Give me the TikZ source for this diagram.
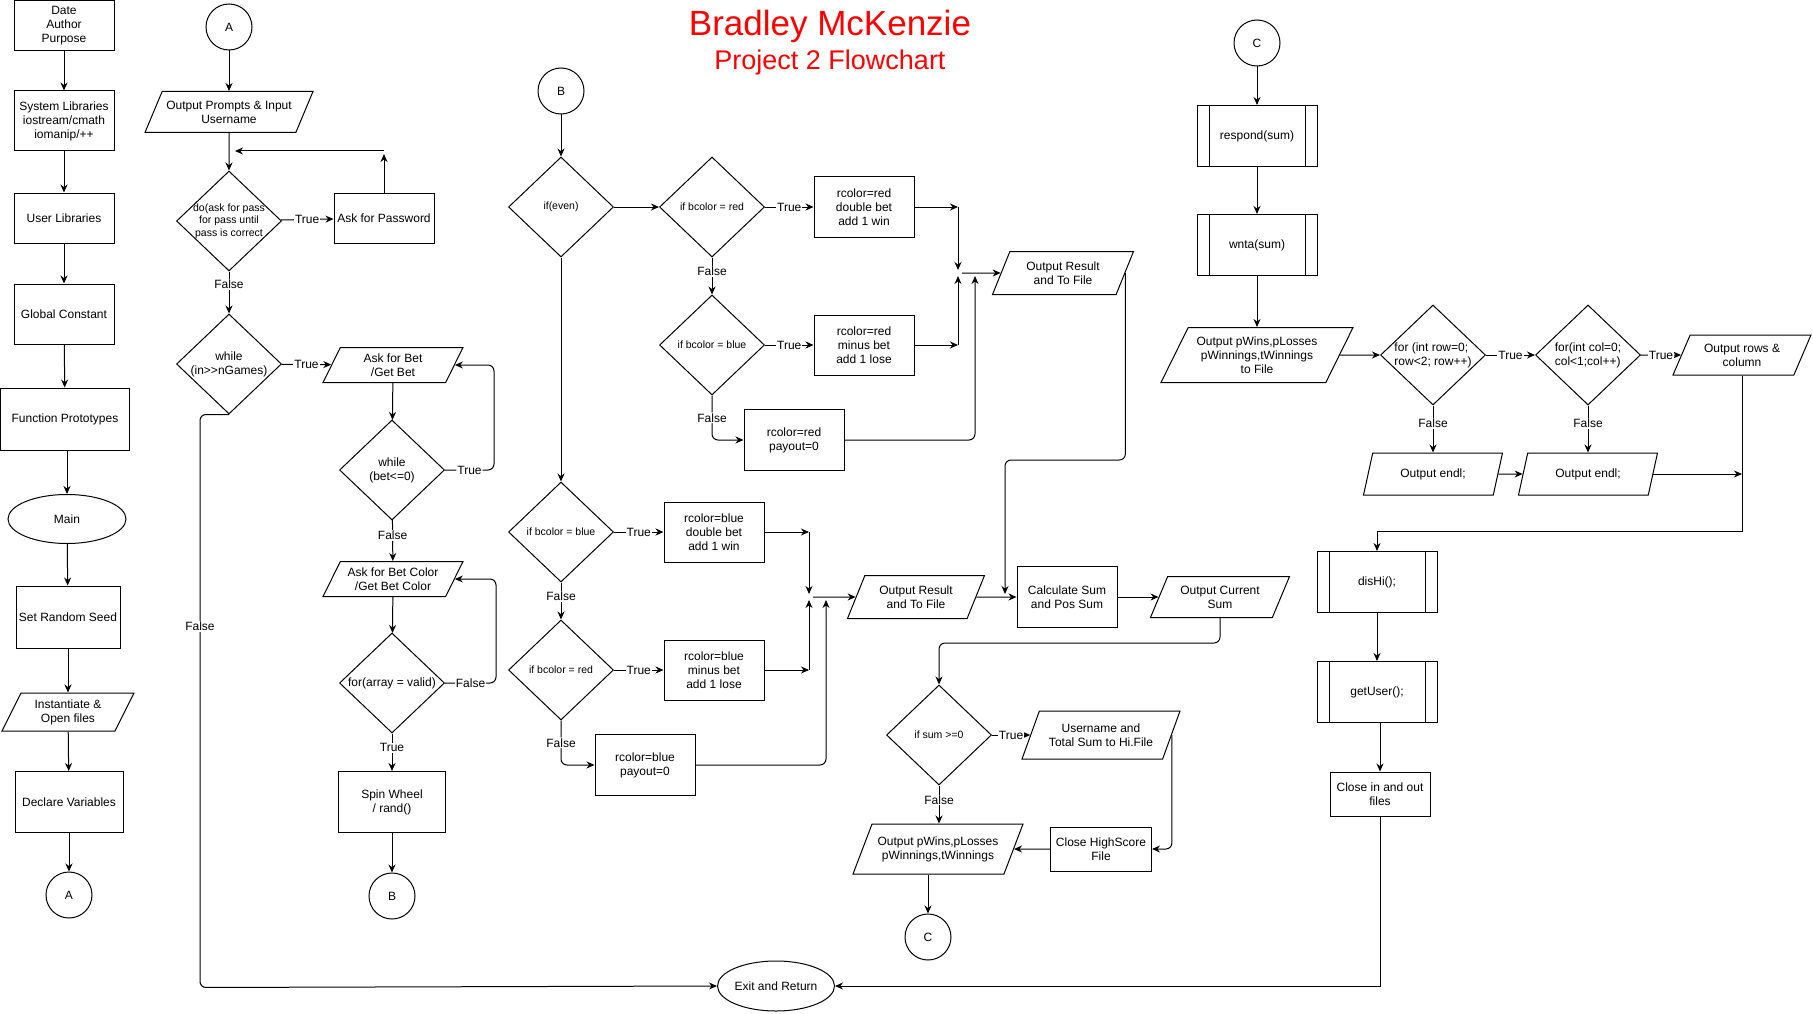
\documentclass[tikz,border=0pt]{standalone}
\usepackage{fontspec}
\setmainfont{Liberation Sans}
\usetikzlibrary{positioning}
\usetikzlibrary{shapes.geometric}
\usetikzlibrary{arrows.meta}
\tikzstyle{process} = [rectangle, draw, align=center, minimum width=100pt, minimum height=50pt, inner sep=2pt]
\tikzstyle{subproc} = [process, minimum width=120pt, minimum height=61pt, path picture={\draw ([xshift=12pt]path picture bounding box.north west) -- ([xshift=12pt]path picture bounding box.south west) ([xshift=-12pt]path picture bounding box.north east) -- ([xshift=-12pt]path picture bounding box.south east);}]
\tikzstyle{decision} = [diamond, draw, aspect=1.05, align=center, minimum width=105pt, minimum height=100pt, inner sep=-2pt]
\tikzstyle{smalltext} = [font=\fontsize{10.5}{12.5}\selectfont]
\tikzstyle{io} = [trapezium, trapezium left angle=55, trapezium right angle=125, trapezium stretches body=true, draw, align=center, minimum width=140pt, minimum height=40pt, inner sep=1pt]
\tikzstyle{connector} = [circle, draw, minimum size=46pt, inner sep=0pt]
\tikzstyle{terminal} = [ellipse, draw, minimum width=118pt, minimum height=49pt, inner sep=0pt]
\tikzstyle{arr} = [-{Stealth[length=8pt,width=7pt]}]
\tikzstyle{lbl} = [fill=white, inner sep=1pt]
\tikzstyle{vlbl} = [lbl, pos=0.38]
\tikzstyle{heading} = [text=red]
\begin{document}
\begin{tikzpicture}[x=1pt, y=-1pt, line width=1pt, font=\fontsize{12}{14}\selectfont]
    \useasboundingbox (0,0) rectangle (1813,1014);

    \node (title) at (830,26) [heading, font=\fontsize{35}{40}\selectfont] {Bradley McKenzie};
    \node (subtitle) at (830,63) [heading, font=\fontsize{27}{30}\selectfont] {Project 2 Flowchart};

    \node (date) at (64,26) [process] {Date\\Author\\Purpose};
    \node (syslib) at (64,121) [process, minimum height=60pt] {System Libraries\\iostream/cmath\\iomanip/++};
    \node (userlib) at (64,218) [process] {User Libraries};
    \node (global) at (64,314) [process, minimum height=60pt] {Global Constant};
    \node (proto) at (65,419) [process, minimum width=129pt, minimum height=62pt] {Function Prototypes};
    \node (main) at (67,519) [terminal] {Main};
    \node (seed) at (68,617) [process, minimum width=104pt, minimum height=62pt] {Set Random Seed};
    \node (openf) at (68,712) [io, minimum width=132pt, minimum height=38pt] {Instantiate \&\\Open files};
    \node (declare) at (69,802) [process, minimum width=108pt, minimum height=61pt] {Declare Variables};
    \node (circA2) at (69,895) [connector] {A};

    \node (circA1) at (229,27) [connector] {A};
    \node (prompts) at (229,112) [io, minimum width=168pt, minimum height=41pt] {Output Prompts \& Input\\Username};
    \node (doPass) at (229,221) [decision, smalltext] {do(ask for pass\\for pass until\\pass is correct};
    \node (askPass) at (384,218) [process] {Ask for Password};
    \coordinate (pwBack) at (384,151);
    \coordinate (pwEnd) at (235,151);
    \node (whileGames) at (229,364) [decision] {while\\(in>{}>nGames)};
    \node (askBet) at (393,365) [io, minimum height=35pt] {Ask for Bet\\/Get Bet};
    \node (whileBet) at (392,470) [decision] {while\\(bet<=0)};
    \node (askColor) at (393,579) [io, minimum height=35pt] {Ask for Bet Color\\/Get Bet Color};
    \node (forArr) at (392,683) [decision] {for(array = valid)};
    \node (spin) at (392,802) [process, minimum width=107pt, minimum height=61pt] {Spin Wheel\\/ rand()};
    \node (circB2) at (392,896) [connector] {B};
    \node (exitRet) at (776,986) [terminal, minimum width=117pt, minimum height=50pt] {Exit and Return};

    \node (circB1) at (561,91) [connector] {B};
    \node (ifEven) at (561,207) [decision, smalltext] {if(even)};
    \node (ifRed1) at (712,207) [decision, smalltext] {if bcolor = red};
    \node (redWin) at (864,207) [process, minimum height=60pt] {rcolor=red\\double bet\\add 1 win};
    \node (ifBlue1) at (712,345) [decision, smalltext] {if bcolor = blue};
    \node (redLose) at (864,345) [process, minimum height=60pt] {rcolor=red\\minus bet\\add 1 lose};
    \node (redZero) at (794,440) [process, minimum height=61pt] {rcolor=red\\payout=0};
    \coordinate (merge1) at (958,273);
    \node (outRes1) at (1063,273) [io, minimum width=141pt, minimum height=43pt] {Output Result\\and To File};

    \node (ifBlue2) at (561,532) [decision, smalltext] {if bcolor = blue};
    \node (blueWin) at (714,532) [process, minimum height=60pt] {rcolor=blue\\double bet\\add 1 win};
    \node (ifRed2) at (561,670) [decision, smalltext] {if bcolor = red};
    \node (blueLose) at (714,670) [process, minimum height=60pt] {rcolor=blue\\minus bet\\add 1 lose};
    \node (blueZero) at (645,765) [process, minimum height=61pt] {rcolor=blue\\payout=0};
    \coordinate (merge2) at (809,597);
    \node (outRes2) at (916,597) [io, minimum width=137pt, minimum height=43pt] {Output Result\\and To File};
    \coordinate (sumJoin) at (1005,597);
    \node (calcSum) at (1067,597) [process, minimum height=61pt] {Calculate Sum\\and Pos Sum};
    \node (outCur) at (1220,597) [io, minimum width=139pt, minimum height=41pt] {Output Current\\Sum};
    \node (ifSum) at (939,735) [decision, smalltext] {if sum >=0};
    \node (userHi) at (1101,735) [io, minimum width=158pt, minimum height=48pt] {Username and\\Total Sum to Hi.File};
    \node (hsClose) at (1101,849) [process, minimum width=101pt, minimum height=44pt] {Close HighScore\\File};
    \node (outPw) at (938,849) [io, minimum width=170pt, minimum height=50pt] {Output pWins,pLosses\\pWinnings,tWinnings};
    \node (circC2) at (928,937) [connector] {C};

    \node (circC1) at (1257,43) [connector] {C};
    \node (respond) at (1257,136) [subproc] {respond(sum)};
    \node (wnta) at (1257,245) [subproc] {wnta(sum)};
    \node (outFile) at (1257,355) [io, minimum width=192pt, minimum height=55pt] {Output pWins,pLosses\\pWinnings,tWinnings\\to File};
    \node (forRow) at (1433,355) [decision, align=left] {for (int row=0;\\row<2; row++)};
    \node (forCol) at (1588,355) [decision, align=left] {for(int col=0;\\col<1;col++)};
    \node (outRC) at (1742,355) [io, minimum width=138pt, minimum height=40pt] {Output rows \&\\column};
    \node (endl1) at (1433,474) [io, minimum width=139pt, minimum height=42pt] {Output endl;};
    \node (endl2) at (1588,474) [io, minimum width=139pt, minimum height=42pt] {Output endl;};
    \node (disHi) at (1377,582) [subproc] {disHi();};
    \node (getUser) at (1377,692) [subproc] {getUser();};
    \node (closeF) at (1380,794) [process, minimum height=44pt] {Close in and out\\files};

    \draw [arr] (date) -- (syslib);
    \draw [arr] (syslib) -- (userlib);
    \draw [arr] (userlib) -- (global);
    \draw [arr] (global) -- (proto);
    \draw [arr] (proto.south -| main) -- (main);
    \draw [arr] (main) -- (seed);
    \draw [arr] (seed) -- (openf);
    \draw [arr] (openf) -- (declare);
    \draw [arr] (declare) -- (circA2);

    \draw [arr] (circA1) -- (prompts);
    \draw [arr] (prompts) -- (doPass);
    \draw [arr] (doPass) -- node[lbl] {True} (askPass);
    \draw [arr] (askPass.north) -- ([yshift=-3pt]pwBack);
    \draw [arr] (pwBack) -- (pwEnd);
    \draw [arr] (doPass) -- node[vlbl, pos=0.3] {False} (whileGames);
    \draw [arr] (whileGames) -- node[lbl] {True} (askBet);
    \draw [arr, rounded corners=6pt] (whileGames.south) -- ++(-29,0) -- node[lbl, pos=0.37] {False} ++(0,573) -- (exitRet.west);
    \draw [arr] (askBet) -- (whileBet);
    \draw [arr, rounded corners=6pt] (whileBet.east) -- node[lbl] {True} ++(49,0) |- (askBet.east);
    \draw [arr] (whileBet) -- node[vlbl] {False} (askColor);
    \draw [arr] (askColor) -- (forArr);
    \draw [arr, rounded corners=6pt] (forArr.east) -- node[lbl] {False} ++(51,0) |- (askColor.east);
    \draw [arr] (forArr) -- node[vlbl] {True} (spin);
    \draw [arr] (spin) -- (circB2);

    \draw [arr] (circB1) -- (ifEven);
    \draw [arr] (ifEven) -- (ifRed1);
    \draw [arr] (ifRed1) -- node[lbl] {True} (redWin);
    \draw [arr] (ifRed1) -- node[vlbl] {False} (ifBlue1);
    \draw [arr] (ifBlue1) -- node[lbl] {True} (redLose);
    \draw [arr, rounded corners=6pt] (ifBlue1.south) |- node[lbl, pos=0.25] {False} (redZero.west);
    \draw [arr] (redWin.east) -- (redWin.east -| merge1);
    \draw [arr] (redWin.east -| merge1) -- ([yshift=3pt]merge1);
    \draw [arr] (redLose.east) -- (redLose.east -| merge1);
    \draw [arr] (redLose.east -| merge1) -- ([yshift=-3pt]merge1);
    \draw [arr, rounded corners=6pt] (redZero.east) -| ([xshift=17pt, yshift=-3pt]merge1);
    \draw [arr] ([xshift=4pt]merge1) -- (outRes1.west);
    \draw [arr, rounded corners=6pt] (outRes1.east) -- ++(0,187) -| ([yshift=3pt]sumJoin);

    \draw [arr] (ifEven) -- (ifBlue2);
    \draw [arr] (ifBlue2) -- node[lbl] {True} (blueWin);
    \draw [arr] (ifBlue2) -- node[vlbl] {False} (ifRed2);
    \draw [arr] (ifRed2) -- node[lbl] {True} (blueLose);
    \draw [arr, rounded corners=6pt] (ifRed2.south) |- node[lbl, pos=0.25] {False} (blueZero.west);
    \draw [arr] (blueWin.east) -- (blueWin.east -| merge2);
    \draw [arr] (blueWin.east -| merge2) -- ([yshift=3pt]merge2);
    \draw [arr] (blueLose.east) -- (blueLose.east -| merge2);
    \draw [arr] (blueLose.east -| merge2) -- ([yshift=-3pt]merge2);
    \draw [arr, rounded corners=6pt] (blueZero.east) -| ([xshift=17pt, yshift=-3pt]merge2);
    \draw [arr] ([xshift=4pt]merge2) -- (outRes2.west);
    \draw [arr] (outRes2.east) -- (calcSum.west);
    \draw [arr] (calcSum) -- (outCur);
    \draw [arr, rounded corners=6pt] (outCur.south) -- ++(0,25) -| (ifSum.north);
    \draw [arr] (ifSum) -- node[lbl] {True} (userHi);
    \draw [arr, rounded corners=6pt] (userHi.east) |- (hsClose.east);
    \draw [arr] (ifSum) -- node[vlbl] {False} (ifSum.south |- outPw.north);
    \draw [arr] (hsClose) -- (outPw);
    \draw [arr] (outPw.south -| circC2) -- (circC2);

    \draw [arr] (circC1) -- (respond);
    \draw [arr] (respond) -- (wnta);
    \draw [arr] (wnta) -- (outFile);
    \draw [arr] (outFile) -- (forRow);
    \draw [arr] (forRow) -- node[lbl] {True} (forCol);
    \draw [arr] (forCol) -- node[lbl] {True} (outRC);
    \draw [arr] (forRow) -- node[vlbl] {False} (endl1);
    \draw [arr] (forCol) -- node[vlbl] {False} (endl2);
    \draw [arr] (endl1) -- (endl2);
    \draw [arr] (endl2.east) -- (endl2.east -| outRC.south);
    \draw [arr] (outRC.south) -- ++(0,156) -| (disHi.north);
    \draw [arr] (disHi) -- (getUser);
    \draw [arr] (getUser.south -| closeF) -- (closeF);
    \draw [arr] (closeF.south) |- (exitRet.east);
\end{tikzpicture}
\end{document}
